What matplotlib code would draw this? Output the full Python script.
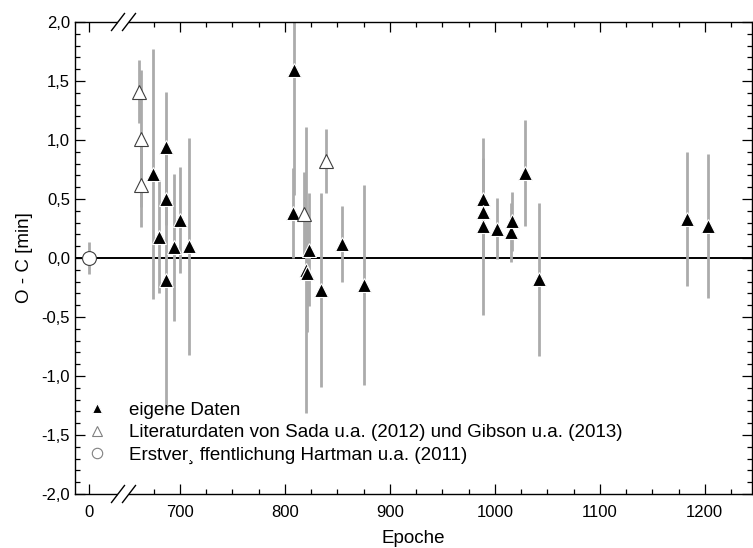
import numpy as np
import matplotlib
matplotlib.use("Agg")
import matplotlib.pyplot as plt
from matplotlib.ticker import FixedLocator, MultipleLocator, FuncFormatter
from matplotlib.patches import Rectangle

plt.rcParams["font.family"] = ["Liberation Sans", "DejaVu Sans"]

# ── data ──────────────────────────────────────────────────────────────────────
own_epoch = [674, 680, 687, 687, 687, 694, 700, 709,
             808, 809, 820, 821, 823, 834, 854, 875,
             989, 989, 989, 1002, 1015, 1016, 1029, 1042,
             1183, 1203]
own_oc = [0.71, 0.18, 0.94, 0.50, -0.19, 0.09, 0.32, 0.10,
          0.38, 1.59, -0.10, -0.13, 0.07, -0.27, 0.12, -0.23,
          0.50, 0.39, 0.27, 0.25, 0.22, 0.31, 0.72, -0.18,
          0.33, 0.27]
own_err = [1.06, 0.48, 0.47, 0.22, 1.11, 0.62, 0.45, 0.92,
           0.38, 1.06, 1.21, 0.50, 0.48, 0.82, 0.32, 0.85,
           0.35, 0.40, 0.75, 0.26, 0.25, 0.25, 0.45, 0.65,
           0.57, 0.61]

lit_epoch = [661, 663, 663, 818, 839]
lit_oc = [1.41, 1.01, 0.62, 0.37, 0.82]
lit_err = [0.27, 0.58, 0.36, 0.36, 0.27]

hart_epoch = [0]
hart_oc = [0.0]
hart_err = [0.135]

x_major = [0, 700, 800, 900, 1000, 1100, 1200]
x_minor = [675, 725, 750, 775, 825, 850, 875, 925, 950, 975,
           1025, 1050, 1075, 1125, 1150, 1175, 1225]

labels = ["eigene Daten",
          "Literaturdaten von Sada u.a. (2012) und Gibson u.a. (2013)",
          "Erstver\u00b8 ffentlichung Hartman u.a. (2011)"]

# broken x axis: epochs 31.5 .. 644.5 are cut out
GAP = 613.0
CUT = 31.5


def fwd(x):
    x = np.asarray(x, dtype=float)
    return np.where(x < CUT, x, np.maximum(x - GAP, CUT))


def inv(u):
    u = np.asarray(u, dtype=float)
    return np.where(u < CUT, u, u + GAP)


# ── figure ────────────────────────────────────────────────────────────────────
W, H = 753, 548
fig = plt.figure(figsize=(W / 100, H / 100), dpi=100)
ax = fig.add_axes([75 / W, 54 / H, 677 / W, 472 / H])
ax.set_xscale("function", functions=(fwd, inv))
ax.set_xlim(-13, 1245)
ax.set_ylim(-2.0, 2.0)

bar_kw = dict(fmt="none", ecolor="#ababab", elinewidth=2.0, capsize=0, zorder=2)
ax.errorbar(own_epoch, own_oc, yerr=own_err, **bar_kw)
ax.errorbar(lit_epoch, lit_oc, yerr=lit_err, **bar_kw)
ax.errorbar(hart_epoch, hart_oc, yerr=hart_err, **bar_kw)

ax.axhline(0, color="black", lw=1.4, zorder=1.5)

ax.plot(own_epoch, own_oc, ls="none", marker="^", ms=10.5, mfc="black",
        mec="white", mew=0.8, zorder=3, label=labels[0])
ax.plot(lit_epoch, lit_oc, ls="none", marker="^", ms=10.5, mfc="white",
        mec="#404040", mew=0.8, zorder=3, label=labels[1])
ax.plot(hart_epoch, hart_oc, ls="none", marker="o", ms=10, mfc="white",
        mec="#404040", mew=0.8, zorder=3, label=labels[2])

# ticks
ax.xaxis.set_major_locator(FixedLocator(x_major))
ax.xaxis.set_minor_locator(FixedLocator(x_minor))
ax.xaxis.set_major_formatter(FuncFormatter(lambda v, p: f"{v:.0f}"))
ax.yaxis.set_major_locator(MultipleLocator(0.5))
ax.yaxis.set_minor_locator(MultipleLocator(0.1))
ax.yaxis.set_major_formatter(FuncFormatter(lambda v, p: f"{v:.1f}".replace(".", ",")))
ax.tick_params(which="both", direction="in", top=True, right=True,
               width=0.9, labelsize=12)
ax.tick_params(which="major", length=7)
ax.tick_params(which="minor", length=3.5)
ax.tick_params(axis="x", pad=8)
for s in ax.spines.values():
    s.set_linewidth(1.0)

ax.set_xlabel("Epoche", fontsize=13.5, labelpad=7)
ax.set_ylabel("O - C [min]", fontsize=13.5, labelpad=6)

# break marks on top and bottom spine
xb = (123.5 - 75) / 677
dx, dy = 6.5 / 677, 8.5 / 472
for yb in (0, 1):
    ax.add_patch(Rectangle((xb - 5.5 / 677, yb - 2 / 472), 11 / 677, 4 / 472,
                           transform=ax.transAxes, facecolor="white",
                           edgecolor="none", clip_on=False, zorder=5))
    for off in (-5.5 / 677, 5.5 / 677):
        ax.plot([xb + off - dx, xb + off + dx], [yb - dy, yb + dy],
                transform=ax.transAxes, color="black", lw=1.0,
                clip_on=False, zorder=6)

leg = ax.legend(loc="lower left", bbox_to_anchor=(0.005, 0.048), frameon=False,
                fontsize=13.5, markerscale=0.75, handlelength=1.2,
                handletextpad=1.1, labelspacing=0.28, borderaxespad=0.0)
for h in leg.legend_handles[1:]:
    h.set_markeredgecolor("#808080")

fig.savefig("out.png", dpi=100)
